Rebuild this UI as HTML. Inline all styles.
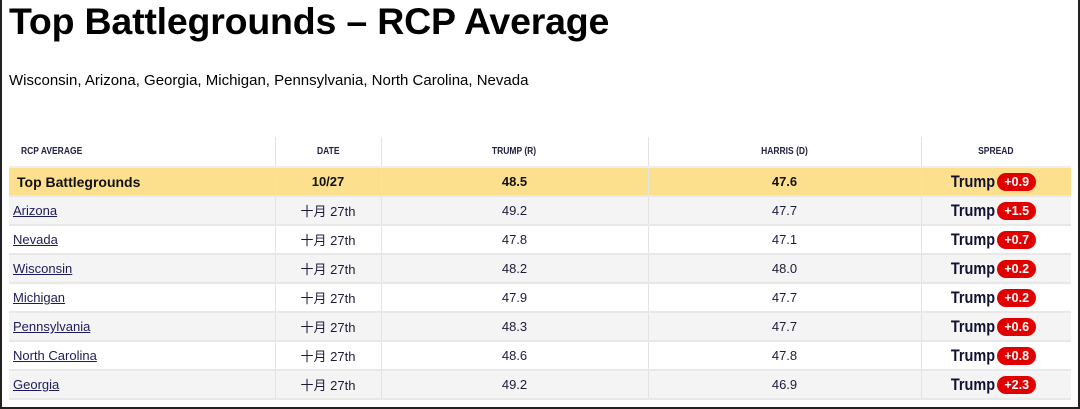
<!DOCTYPE html>
<html><head><meta charset="utf-8"><style>
*{margin:0;padding:0;box-sizing:border-box}
body{width:1080px;height:409px;background:#fff;position:relative;overflow:hidden;font-family:"Liberation Sans","Noto Sans CJK SC",sans-serif;color:#000}
.frame{position:absolute;left:0;top:-2px;width:1080px;height:411px;border:2px solid #222}
h1{position:absolute;left:9px;top:0px;font-size:37.5px;font-weight:bold;letter-spacing:-0.2px;line-height:42px}
.sub{position:absolute;left:9px;top:72px;font-size:15px}
table{position:absolute;left:9px;top:137px;width:1062px;border-collapse:collapse}
td,th{height:29px;text-align:center;font-size:13px;color:#1c1c3a;border-left:1px solid #e3e3e3;border-bottom:2px solid #e8e8e8}
tr td:first-child,tr th:first-child{border-left:none;text-align:left;padding-left:4px}
th{height:30px;font-size:10px;font-weight:bold;color:#222244;border-bottom:2px solid #eee}
th span{display:inline-block;transform:scaleX(0.85)}
th:first-child span{transform-origin:left center}
th:first-child{padding-left:12px!important}
tr.hl td{background:#fde08e;font-weight:bold;font-size:13px;color:#111}
tr.hl td:first-child{padding-left:8px;font-size:14px}
tr.g td{background:#f4f4f4}
a{color:#1c1c5a;text-decoration:underline}
.sp{display:inline-flex;align-items:center;margin-left:-3px}
.t{display:inline-block;font-weight:bold;font-size:17px;color:#111133;transform:scaleX(0.85);margin:0 -6px 0 -6px}
.b{display:inline-block;background:#e00000;color:#fff;font-weight:bold;font-size:12.5px;border-radius:9px;padding:1px 7px;margin-left:4px;line-height:16px}
</style></head><body>
<div class="frame"></div>
<h1>Top Battlegrounds – RCP Average</h1>
<div class="sub">Wisconsin, Arizona, Georgia, Michigan, Pennsylvania, North Carolina, Nevada</div>
<table>
<colgroup><col style="width:266px"><col style="width:106px"><col style="width:267px"><col style="width:273px"><col style="width:150px"></colgroup>
<tr><th><span>RCP AVERAGE</span></th><th><span>DATE</span></th><th><span>TRUMP (R)</span></th><th><span>HARRIS (D)</span></th><th><span>SPREAD</span></th></tr>
<tr class="hl"><td>Top Battlegrounds</td><td>10/27</td><td>48.5</td><td>47.6</td><td><span class="sp"><span class="t">Trump</span><span class="b">+0.9</span></span></td></tr>
<tr class="g"><td><a>Arizona</a></td><td>十月 27th</td><td>49.2</td><td>47.7</td><td><span class="sp"><span class="t">Trump</span><span class="b">+1.5</span></span></td></tr>
<tr><td><a>Nevada</a></td><td>十月 27th</td><td>47.8</td><td>47.1</td><td><span class="sp"><span class="t">Trump</span><span class="b">+0.7</span></span></td></tr>
<tr class="g"><td><a>Wisconsin</a></td><td>十月 27th</td><td>48.2</td><td>48.0</td><td><span class="sp"><span class="t">Trump</span><span class="b">+0.2</span></span></td></tr>
<tr><td><a>Michigan</a></td><td>十月 27th</td><td>47.9</td><td>47.7</td><td><span class="sp"><span class="t">Trump</span><span class="b">+0.2</span></span></td></tr>
<tr class="g"><td><a>Pennsylvania</a></td><td>十月 27th</td><td>48.3</td><td>47.7</td><td><span class="sp"><span class="t">Trump</span><span class="b">+0.6</span></span></td></tr>
<tr><td><a>North Carolina</a></td><td>十月 27th</td><td>48.6</td><td>47.8</td><td><span class="sp"><span class="t">Trump</span><span class="b">+0.8</span></span></td></tr>
<tr class="g"><td><a>Georgia</a></td><td>十月 27th</td><td>49.2</td><td>46.9</td><td><span class="sp"><span class="t">Trump</span><span class="b">+2.3</span></span></td></tr>
</table>
</body></html>
